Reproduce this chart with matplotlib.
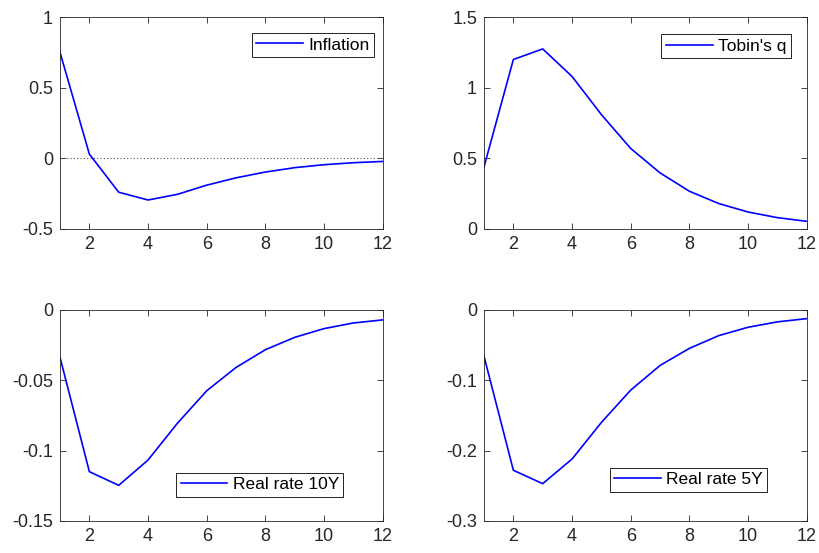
import matplotlib.pyplot as plt

horizon = list(range(1, 13))

inflation = [0.75, 0.03, -0.24, -0.295, -0.255, -0.19, -0.138, -0.097, -0.066, -0.045, -0.031, -0.022]
tobins_q = [0.44, 1.20, 1.275, 1.08, 0.81, 0.57, 0.397, 0.267, 0.18, 0.12, 0.08, 0.054]
real_10y = [-0.0338, -0.115, -0.1247, -0.1067, -0.0806, -0.0575, -0.0409, -0.0283, -0.0195, -0.0133, -0.0093, -0.0071]
real_5y = [-0.066, -0.228, -0.247, -0.212, -0.160, -0.114, -0.079, -0.0547, -0.0366, -0.0247, -0.017, -0.0124]

plt.rcParams['font.family'] = ['Liberation Sans', 'DejaVu Sans']

fig = plt.figure(figsize=(8.19, 5.53), dpi=100)

panels = [
    # series, label, ylim, yticks, yticklabels, axes rect, legend anchor (x1, y1)
    (inflation, 'Inflation', (-0.5, 1), [-0.5, 0, 0.5, 1], ['-0.5', '0', '0.5', '1'],
     [0.0733, 0.586, 0.394, 0.383], (0.972, 0.925)),
    (tobins_q, "Tobin's q", (0, 1.5), [0, 0.5, 1, 1.5], ['0', '0.5', '1', '1.5'],
     [0.591, 0.586, 0.394, 0.383], (0.95, 0.92)),
    (real_10y, 'Real rate 10Y', (-0.15, 0), [-0.15, -0.1, -0.05, 0], ['-0.15', '-0.1', '-0.05', '0'],
     [0.0733, 0.058, 0.394, 0.3816], (0.878, 0.228)),
    (real_5y, 'Real rate 5Y', (-0.3, 0), [-0.3, -0.2, -0.1, 0], ['-0.3', '-0.2', '-0.1', '0'],
     [0.591, 0.058, 0.394, 0.3816], (0.878, 0.252)),
]

grey = '#262626'

for series, label, ylim, yticks, ylabels, rect, anchor in panels:
    ax = fig.add_axes(rect)
    ax.plot(horizon, series, color='#0000ff', lw=1.2, label=label)
    if label == 'Inflation':
        ax.plot([1, 11.8], [0, 0], color='#555555', lw=0.8, ls=(0, (1, 2)))
    ax.set_xlim(1, 12)
    ax.set_ylim(*ylim)
    ax.set_xticks([2, 4, 6, 8, 10, 12])
    ax.set_yticks(yticks)
    ax.set_yticklabels(ylabels)
    ax.tick_params(direction='in', top=True, right=True, length=4, width=0.6,
                   colors=grey, labelsize=13, pad=5)
    for s in ax.spines.values():
        s.set_color(grey)
        s.set_linewidth(0.6)
    leg = ax.legend(loc='upper right', bbox_to_anchor=anchor, fontsize=12.5,
                    handlelength=2.7, handletextpad=0.3, borderpad=0.25,
                    borderaxespad=0, fancybox=False, framealpha=1)
    leg.get_frame().set_edgecolor('black')
    leg.get_frame().set_linewidth(0.6)

fig.savefig('out.png', dpi=100)
